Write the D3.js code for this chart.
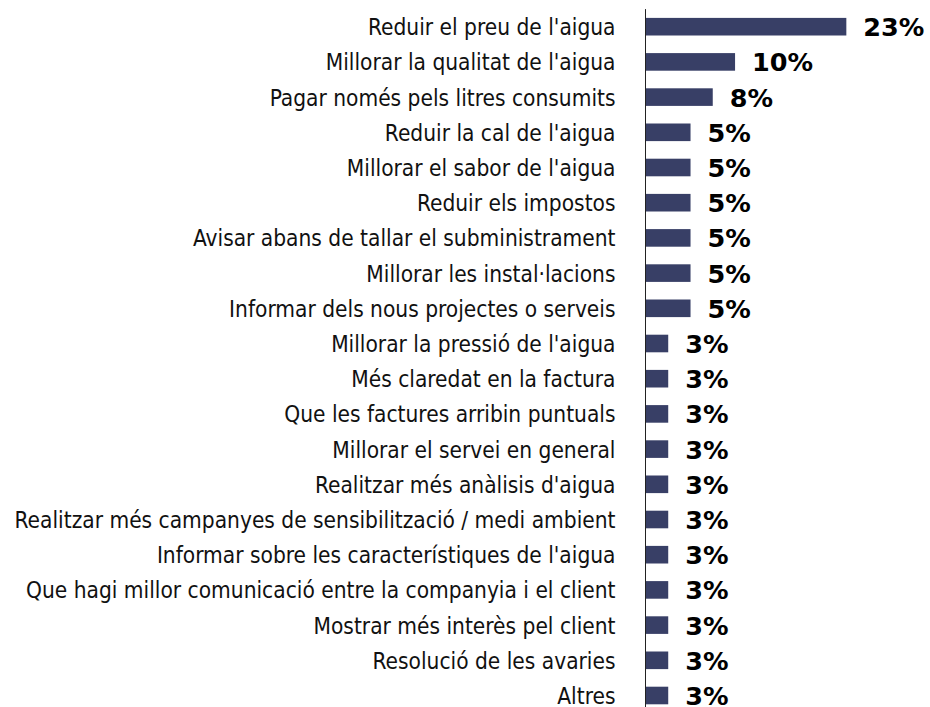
<!DOCTYPE html>
<html><head><meta charset="utf-8">
<script src="https://cdn.jsdelivr.net/npm/d3@7"></script>
<style>
  body { margin: 0; background: #fff; }
  .cat { font-family: "DejaVu Sans Condensed", "DejaVu Sans", Tahoma, sans-serif; font-size: 22.5px; fill: #111; }
  .val { font-family: "DejaVu Sans", Verdana, sans-serif; font-size: 25.5px; font-weight: bold; fill: #000; }
</style>
</head><body>
<svg id="chart" width="930" height="707"></svg>
<script>
// Improvement suggestions, share of respondents (%)
const categories = [
  "Reduir el preu de l'aigua",
  "Millorar la qualitat de l'aigua",
  "Pagar només pels litres consumits",
  "Reduir la cal de l'aigua",
  "Millorar el sabor de l'aigua",
  "Reduir els impostos",
  "Avisar abans de tallar el subministrament",
  "Millorar les instal·lacions",
  "Informar dels nous projectes o serveis",
  "Millorar la pressió de l'aigua",
  "Més claredat en la factura",
  "Que les factures arribin puntuals",
  "Millorar el servei en general",
  "Realitzar més anàlisis d'aigua",
  "Realitzar més campanyes de sensibilització / medi ambient",
  "Informar sobre les característiques de l'aigua",
  "Que hagi millor comunicació entre la companyia i el client",
  "Mostrar més interès pel client",
  "Resolució de les avaries",
  "Altres"
];
const values = [23.08, 10.26, 7.69, 5.13, 5.13, 5.13, 5.13, 5.13, 5.13,
  2.56, 2.56, 2.56, 2.56, 2.56, 2.56, 2.56, 2.56, 2.56, 2.56, 2.56];

const data = categories.map((c, i) => ({ cat: c, val: values[i] }));

const svg = d3.select("#chart");
const x0 = 646, yTop = 9.1, yBottom = 713.1;

const x = d3.scaleLinear().domain([0, 25]).range([x0, x0 + 217]);
const y = d3.scaleBand().domain(categories).range([yTop, yBottom])
  .paddingInner(0.5).paddingOuter(0.25);

// bars
svg.append("g").selectAll("rect").data(data).join("rect")
  .attr("x", x(0))
  .attr("y", d => y(d.cat))
  .attr("width", d => x(d.val) - x(0))
  .attr("height", y.bandwidth())
  .attr("fill", "#383f66");

// category axis (line only, labels drawn on the left)
const axis = d3.axisLeft(y).tickSize(0).tickPadding(30);
const gAxis = svg.append("g").attr("transform", `translate(${x0 - 0.5},0)`).call(axis);
gAxis.select(".domain").attr("stroke", "#222").attr("stroke-width", 1)
  .attr("d", `M0,${yTop}V${yBottom}`);
gAxis.selectAll(".tick text")
  .attr("class", "cat")
  .attr("dy", null)
  .attr("y", 8.5);
gAxis.attr("font-family", null).attr("font-size", null);

// value labels
const fmt = v => Math.round(v) + "%";
svg.append("g").selectAll("text").data(data).join("text")
  .attr("class", "val")
  .attr("x", d => x(d.val) + 17)
  .attr("y", d => y(d.cat) + y.bandwidth() / 2 + 9.5)
  .text(d => fmt(d.val));
</script>
</body></html>
